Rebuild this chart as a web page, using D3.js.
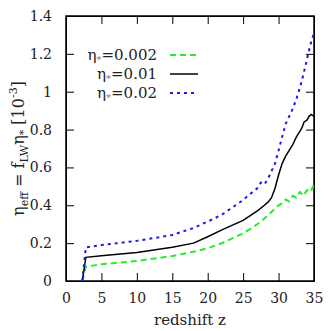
<!DOCTYPE html>
<html>
<head>
<meta charset="utf-8">
<script src="https://cdn.jsdelivr.net/npm/d3@7/dist/d3.min.js"></script>
<style>
  body { margin: 0; background: #fff; }
  svg { display: block; }
</style>
</head>
<body>
<div id="chartArea"></div>
<script>
var zLow = [2.3, 2.8, 5, 10, 15, 18, 20, 22, 25, 26, 27, 28, 29, 30, 30.5, 31, 31.5, 32, 32.5, 33, 33.5, 34, 34.5, 35];
var etaLow = [0, 0.076, 0.088, 0.106, 0.132, 0.155, 0.173, 0.2, 0.252, 0.275, 0.3, 0.33, 0.365, 0.40, 0.41, 0.43, 0.42, 0.45, 0.44, 0.47, 0.45, 0.48, 0.47, 0.51];
var zMid = [2.3, 2.8, 5, 10, 15, 18, 20, 22, 25, 26, 27, 27.5, 28, 28.3, 28.6, 29, 29.5, 30, 30.5, 31, 31.5, 32, 32.5, 33, 33.3, 33.6, 34, 34.3, 34.6, 35];
var etaMid = [0, 0.125, 0.133, 0.15, 0.178, 0.2, 0.234, 0.27, 0.32, 0.345, 0.37, 0.385, 0.40, 0.41, 0.42, 0.44, 0.49, 0.56, 0.62, 0.66, 0.69, 0.72, 0.76, 0.79, 0.81, 0.84, 0.85, 0.87, 0.88, 0.87];
var zHigh = [2.3, 2.8, 5, 10, 15, 18, 20, 22, 25, 26, 27, 27.5, 28, 28.5, 29, 29.5, 30, 30.5, 31, 31.5, 32, 32.5, 33, 33.5, 34, 34.5, 35];
var etaHigh = [0, 0.178, 0.19, 0.212, 0.243, 0.28, 0.314, 0.35, 0.428, 0.46, 0.49, 0.52, 0.51, 0.54, 0.58, 0.62, 0.69, 0.76, 0.83, 0.87, 0.91, 0.96, 1.02, 1.09, 1.17, 1.25, 1.31];

var seriesLabels = ["0.002", "0.01", "0.02"];
var xTicks = [0, 5, 10, 15, 20, 25, 30, 35];
var yTicks = [0, 0.2, 0.4, 0.6, 0.8, 1, 1.2, 1.4];

var FONT = "'DejaVu Serif', 'Liberation Serif', serif";

var series = [
    { label: seriesLabels[0], z: zLow, v: etaLow, color: "#22ee22", dash: "6,4", width: 2 },
    { label: seriesLabels[1], z: zMid, v: etaMid, color: "#000", dash: null, width: 1.5 },
    { label: seriesLabels[2], z: zHigh, v: etaHigh, color: "#1a1aee", dash: "3,4", width: 2 }
];

var svg = d3.select("#chartArea").append("svg").attr("width", 331).attr("height", 331)
        .attr("font-family", FONT),
    margin = { top: 16, right: 17, bottom: 50, left: 66 },
    width = 331 - margin.left - margin.right,
    height = 331 - margin.top - margin.bottom,
    g = svg.append("g").attr("transform", "translate(" + margin.left + "," + margin.top + ")");

var x = d3.scaleLinear().domain([0, 35]).range([0, width]),
    y = d3.scaleLinear().domain([0, 1.4]).range([height, 0]);

function styleAxis(sel) {
    sel.attr("font-family", FONT).attr("font-size", 14);
    sel.selectAll("text").attr("fill", "#222");
    sel.selectAll("line").attr("stroke", "#000");
}

// axes, ticks inward on all four sides
g.append("g")
    .attr("transform", "translate(0," + height + ")")
    .call(d3.axisBottom(x).tickValues(xTicks).tickSizeInner(-8).tickSizeOuter(0).tickPadding(12).tickFormat(d3.format("d")))
    .call(styleAxis);
g.append("g")
    .call(d3.axisTop(x).tickValues(xTicks).tickSizeInner(-8).tickSizeOuter(0).tickFormat(""))
    .call(styleAxis);
g.append("g")
    .call(d3.axisLeft(y).tickValues(yTicks).tickSizeInner(-8).tickSizeOuter(0).tickPadding(14)
        .tickFormat(function(d) { return d === 0 || d === 1 ? d : d3.format(".1f")(d); }))
    .call(styleAxis);
g.append("g")
    .attr("transform", "translate(" + width + ",0)")
    .call(d3.axisRight(y).tickValues(yTicks).tickSizeInner(-8).tickSizeOuter(0).tickFormat(""))
    .call(styleAxis);

g.append("rect").attr("width", width).attr("height", height)
    .attr("fill", "none").attr("stroke", "#000").attr("stroke-width", 1.5);

var line = d3.line().x(function(d) { return x(d[0]); }).y(function(d) { return y(d[1]); });

series.forEach(function(s) {
    var pts = s.z.map(function(z, i) { return [z, s.v[i]]; });
    g.append("path")
        .attr("d", line(pts))
        .attr("fill", "none")
        .attr("stroke", s.color)
        .attr("stroke-width", s.width)
        .attr("stroke-dasharray", s.dash);
});

// legend
var legend = svg.append("g").attr("font-size", 15);
series.forEach(function(s, i) {
    var ly = 55 + i * 19;
    var t = legend.append("text").attr("x", 157).attr("y", ly).attr("dy", "0.35em")
        .attr("text-anchor", "end").attr("fill", "#222");
    t.append("tspan").text("η");
    t.append("tspan").attr("font-size", 10).attr("dy", 3).attr("fill", "#777").text("*");
    t.append("tspan").attr("dy", -3).text("=" + s.label);
    legend.append("line").attr("x1", 170).attr("x2", 198).attr("y1", ly).attr("y2", ly)
        .attr("stroke", s.color).attr("stroke-width", s.width).attr("stroke-dasharray", s.dash);
});

// axis titles
svg.append("text")
    .attr("x", margin.left + width / 2).attr("y", 325)
    .attr("text-anchor", "middle")
    .attr("font-size", 15).attr("fill", "#222")
    .text("redshift z");

var yl = svg.append("text")
    .attr("transform", "translate(24," + (margin.top + height / 2) + ") rotate(-90)")
    .attr("text-anchor", "middle")
    .attr("font-size", 16).attr("fill", "#222");
yl.append("tspan").text("η");
yl.append("tspan").attr("font-size", 11).attr("dy", 4).text("eff");
yl.append("tspan").attr("dy", -4).text(" = f");
yl.append("tspan").attr("font-size", 11).attr("dy", 4).text("LW");
yl.append("tspan").attr("dy", -4).text("η");
yl.append("tspan").attr("font-size", 11).attr("dy", 3).text("*");
yl.append("tspan").attr("dy", -3).text(" [10");
yl.append("tspan").attr("font-size", 11).attr("dy", -7).text("-3");
yl.append("tspan").attr("dy", 7).text("]");
</script>
</body>
</html>
